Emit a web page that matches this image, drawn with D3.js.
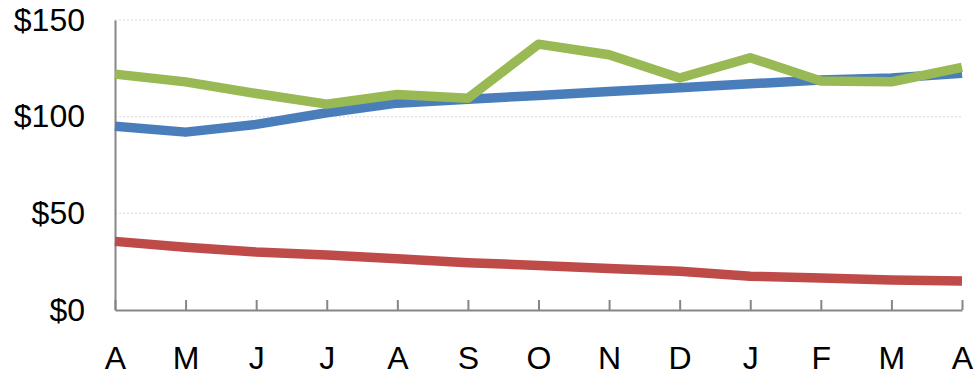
<!DOCTYPE html>
<html>
<head>
<meta charset="utf-8">
<script src="https://cdn.jsdelivr.net/npm/d3@7"></script>
<style>
  html, body { margin: 0; padding: 0; background: #fff; }
  svg { display: block; font-family: "Liberation Sans", Arial, sans-serif; }
</style>
</head>
<body>
<svg id="chart" width="977" height="375"></svg>
<script>
// Monthly categories (April through April)
const months = ["A", "M", "J", "J", "A", "S", "O", "N", "D", "J", "F", "M", "A"];

// Series values in dollars
const blueSeries  = [95, 92, 96, 102, 107, 109, 111, 113, 115, 117, 119, 120, 122.5];
const greenSeries = [122, 118, 112, 106.5, 111.5, 109.5, 137.5, 132, 120, 130.5, 118.5, 118, 125.5];
const redSeries   = [35.5, 32.5, 30, 28.5, 26.5, 24.5, 23, 21.5, 20, 17.5, 16.5, 15.5, 15];

// Y-axis tick values
const yTicks = [0, 50, 100, 150];

const series = [
  { values: blueSeries,  color: "#4A7EBB" },
  { values: redSeries,   color: "#BE4B48" },
  { values: greenSeries, color: "#98B954" }
];

const svg = d3.select("#chart");
const margin = { left: 115, right: 15, top: 20, bottom: 65 };
const width = 977, height = 375;

const x = d3.scalePoint()
  .domain(d3.range(months.length))
  .range([margin.left, width - margin.right]);

const y = d3.scaleLinear()
  .domain([0, 150])
  .range([height - margin.bottom, margin.top]);

// Dotted horizontal gridlines
svg.append("g")
  .selectAll("line")
  .data(yTicks.filter(d => d > 0))
  .join("line")
  .attr("x1", margin.left)
  .attr("x2", width - margin.right)
  .attr("y1", d => y(d))
  .attr("y2", d => y(d))
  .attr("stroke", "#D9D9D9")
  .attr("stroke-width", 1)
  .attr("stroke-dasharray", "2,2");

// Y axis
const yAxis = svg.append("g")
  .attr("transform", `translate(${margin.left},0)`)
  .call(d3.axisLeft(y).tickValues(yTicks).tickSize(0).tickPadding(30).tickFormat(d => "$" + d));
yAxis.select(".domain").attr("stroke", "#868686").attr("stroke-width", 2);
yAxis.selectAll("text")
  .attr("font-size", 32)
  .attr("fill", "#000")
  .attr("font-family", "Liberation Sans, Arial, sans-serif");

// X axis with inward ticks
const xAxis = svg.append("g")
  .attr("transform", `translate(0,${y(0)})`)
  .call(d3.axisBottom(x).tickSizeInner(-10).tickSizeOuter(0).tickPadding(0).tickFormat(i => months[i]));
xAxis.select(".domain").attr("stroke", "#868686").attr("stroke-width", 2);
xAxis.selectAll(".tick line").attr("stroke", "#868686").attr("stroke-width", 2);
xAxis.selectAll("text")
  .attr("font-size", 32)
  .attr("fill", "#000")
  .attr("font-family", "Liberation Sans, Arial, sans-serif")
  .attr("dy", null)
  .attr("y", 59);

// Lines
const line = d3.line()
  .x((d, i) => x(i))
  .y(d => y(d));

svg.append("g")
  .selectAll("path")
  .data(series)
  .join("path")
  .attr("d", d => line(d.values))
  .attr("fill", "none")
  .attr("stroke", d => d.color)
  .attr("stroke-width", 9.5)
  .attr("stroke-linejoin", "round")
  .attr("stroke-linecap", "butt");
</script>
</body>
</html>
